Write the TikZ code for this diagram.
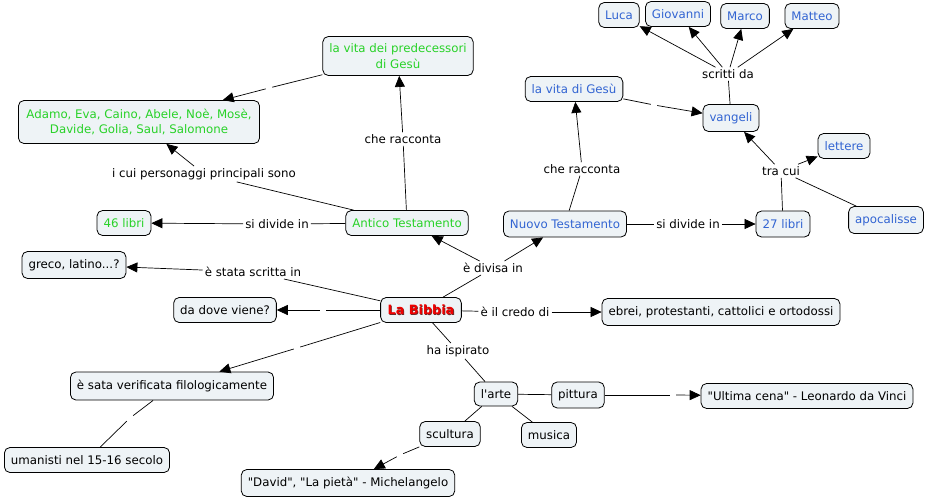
\documentclass[tikz,border=0pt]{standalone}
\usepackage{fontspec}
\setmainfont{DejaVu Sans}[Ligatures=TeXOff]
\usetikzlibrary{arrows.meta}
\definecolor{boxfill}{RGB}{238,243,246}
\definecolor{atgreen}{RGB}{40,210,40}
\definecolor{ntblue}{RGB}{50,100,210}
\definecolor{bibred}{RGB}{240,0,0}
\definecolor{shadowgray}{RGB}{110,40,40}
\newcommand{\bibtitle}[1]{\rlap{\hspace{0.8pt}\raisebox{-0.8pt}{\textcolor{shadowgray}{#1}}}\textcolor{bibred}{#1}}
\begin{document}
\begin{tikzpicture}[x=1pt,y=-1pt,
  concept/.style={draw=black, line width=0.8pt, rounded corners=5.5pt, fill=boxfill,
    inner xsep=6.5pt, inner ysep=0pt, minimum height=25pt, align=center,
    font=\fontsize{11.8}{15.5}\selectfont},
  green/.style={concept, text=atgreen},
  blue/.style={concept, text=ntblue},
  phrase/.style={inner sep=2pt, font=\fontsize{11.8}{14}\selectfont},
  gap/.style={inner sep=0pt, minimum size=6pt},
  link/.style={line width=0.7pt},
  arr/.style={line width=0.7pt, -{Triangle[length=11pt,width=10pt]}}]
\useasboundingbox (0,0) rectangle (928,499);

% concepts
\node[blue] (luca) at (619,15) {Luca};
\node[blue] (giov) at (678,14) {Giovanni};
\node[blue] (marco) at (745,16) {Marco};
\node[blue] (matteo) at (812,16) {Matteo};
\node[blue] (vitag) at (574,89) {la vita di Gesù};
\node[blue, minimum height=27pt] (vangeli) at (731,118) {vangeli};
\node[blue] (lettere) at (844,146) {lettere};
\node[blue, minimum height=26pt] (nt) at (565,224) {Nuovo Testamento};
\node[blue, minimum height=26pt] (l27) at (783,224) {27 libri};
\node[blue, minimum height=27pt] (apoc) at (886,220) {apocalisse};

\node[green, minimum height=39pt] (pred) at (398,56) {la vita dei predecessori\\di Gesù};
\node[green, minimum height=43pt, inner xsep=8pt] (adamo) at (139,122) {Adamo, Eva, Caino, Abele, Noè, Mosè,\\Davide, Golia, Saul, Salomone};
\node[green] (l46) at (124,223) {46 libri};
\node[green] (at) at (407,223) {Antico Testamento};

\node[concept, minimum height=27pt] (greco) at (74,265) {greco, latino...?};
\node[concept] (dove) at (225,310) {da dove viene?};
\node[concept, inner xsep=7pt, font=\fontsize{12.8}{14}\selectfont\bfseries] (bib) at (421,310) {\bibtitle{La Bibbia}};
\node[concept, minimum height=27pt] (ebrei) at (721,312) {ebrei, protestanti, cattolici e ortodossi};
\node[concept, minimum height=24pt] (arte) at (496,394) {l'arte};
\node[concept, minimum height=26pt] (pitt) at (578,395) {pittura};
\node[concept] (cena) at (807,396) {"Ultima cena" - Leonardo da Vinci};
\node[concept] (musica) at (549,435) {musica};
\node[concept] (scult) at (450,434) {scultura};
\node[concept, minimum height=27pt] (david) at (348,483) {"David", "La pietà" - Michelangelo};
\node[concept, minimum height=28pt] (verif) at (172,386) {è sata verificata filologicamente};
\node[concept] (uman) at (87,460) {umanisti nel 15-16 secolo};

% linking phrases
\node[phrase] (scritti) at (728,74) {scritti da};
\node[phrase] (tracui) at (781,171) {tra cui};
\node[phrase] (raccNT) at (582,169) {che racconta};
\node[phrase] (divNT) at (688,224) {si divide in};
\node[phrase] (raccAT) at (403,139) {che racconta};
\node[phrase] (pers) at (204,174) {i cui personaggi principali sono};
\node[phrase] (divAT) at (277,224) {si divide in};
\node[phrase] (scritta) at (253,272) {è stata scritta in};
\node[phrase] (divisa) at (493,268) {è divisa in};
\node[phrase] (credo) at (515,312) {è il credo di};
\node[phrase] (ispir) at (458,351) {ha ispirato};

% empty linking phrases (gaps)
\node[gap] (g1) at (654,105) {};
\node[gap] (g2) at (269,88) {};
\node[gap] (g3) at (323,310) {};
\node[gap] (g4) at (673,395) {};
\node[gap] (g5) at (400,455) {};
\node[gap] (g6) at (297,348) {};
\node[gap] (g7) at (130,418) {};

% connectors
\draw[link] (vangeli) -- (scritti);
\draw[arr] (scritti) -- (luca);
\draw[arr] (scritti) -- (giov);
\draw[arr] (scritti) -- (marco);
\draw[arr] (scritti) -- (matteo);
\draw[link] (vitag) -- (g1);
\draw[arr] (g1) -- (vangeli);
\draw[link] (l27) -- (tracui);
\draw[link] (apoc) -- (tracui);
\draw[arr] (tracui) -- (vangeli);
\draw[arr] (tracui) -- (lettere);
\draw[link] (nt) -- (raccNT);
\draw[arr] (raccNT) -- (vitag);
\draw[link] (nt) -- (divNT);
\draw[arr] (divNT) -- (l27);

\draw[link] (at) -- (raccAT);
\draw[arr] (raccAT) -- (pred);
\draw[link] (pred) -- (g2);
\draw[arr] (g2) -- (adamo);
\draw[link] (at) -- (pers);
\draw[arr] (pers) -- (adamo);
\draw[link] (at) -- (divAT);
\draw[arr] (divAT) -- (l46);

\draw[link] (bib) -- (divisa);
\draw[arr] (divisa) -- (at);
\draw[arr] (divisa) -- (nt);
\draw[link] (bib) -- (scritta);
\draw[arr] (scritta) -- (greco);
\draw[link] (bib) -- (g3);
\draw[arr] (g3) -- (dove);
\draw[link] (bib) -- (credo);
\draw[arr] (credo) -- (ebrei);
\draw[link] (bib) -- (ispir);
\draw[link] (ispir) -- (arte);
\draw[link] (arte) -- (pitt);
\draw[link] (arte) -- (musica);
\draw[link] (arte) -- (scult);
\draw[link] (pitt) -- (g4);
\draw[arr] (g4) -- (cena);
\draw[link] (scult) -- (g5);
\draw[arr] (g5) -- (david);
\draw[link] (bib) -- (g6);
\draw[arr] (g6) -- (verif);
\draw[link] (verif) -- (g7);
\draw[link] (g7) -- (uman);
\end{tikzpicture}
\end{document}
